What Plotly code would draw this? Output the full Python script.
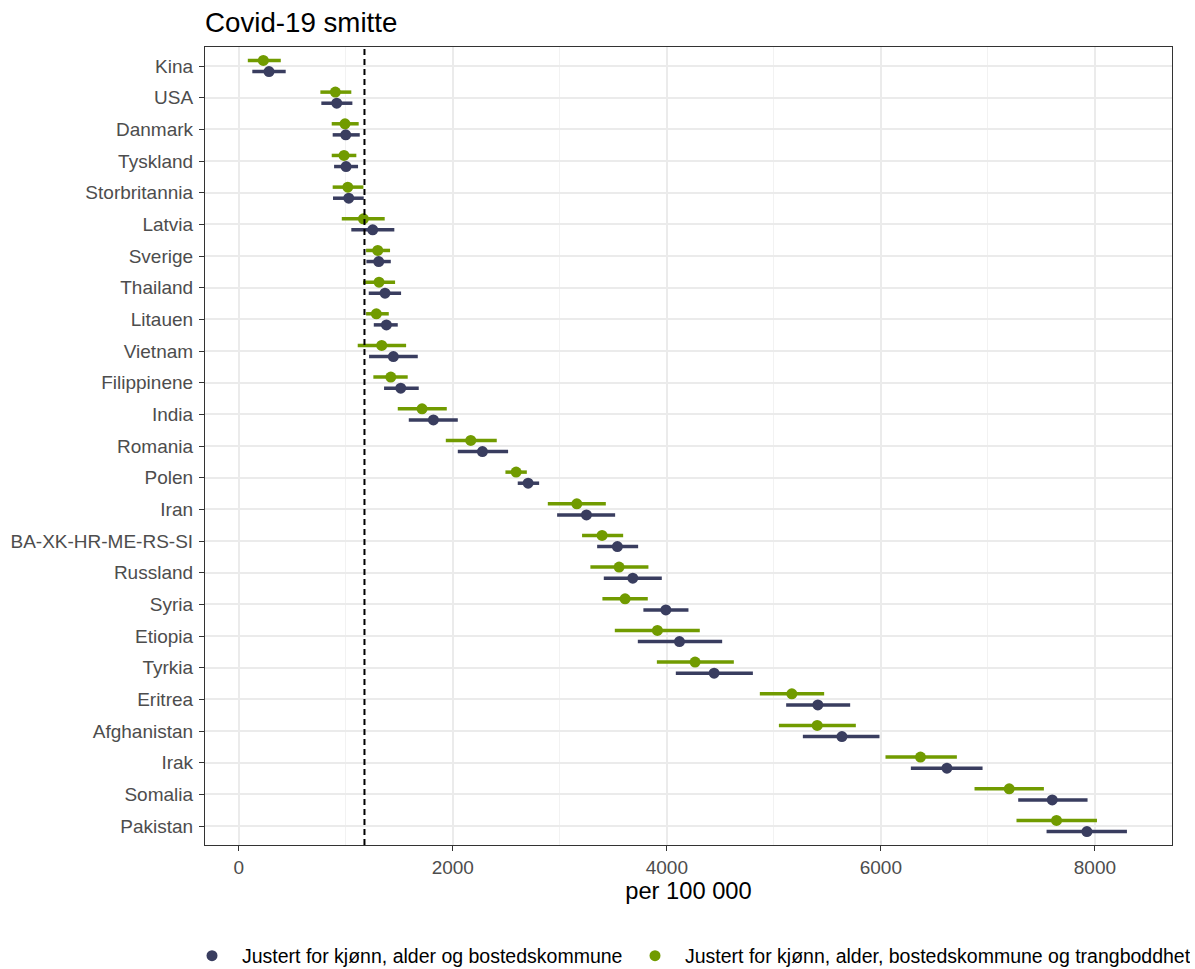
import plotly.graph_objects as go

countries = ["Kina", "USA", "Danmark", "Tyskland", "Storbritannia", "Latvia", "Sverige",
             "Thailand", "Litauen", "Vietnam", "Filippinene", "India", "Romania", "Polen",
             "Iran", "BA-XK-HR-ME-RS-SI", "Russland", "Syria", "Etiopia", "Tyrkia",
             "Eritrea", "Afghanistan", "Irak", "Somalia", "Pakistan"]

# Justert for kjønn, alder og bostedskommune
base_est = [283, 916, 1000, 1003, 1028, 1252, 1308, 1367, 1380, 1445, 1514, 1819, 2277,
            2704, 3249, 3538, 3682, 3991, 4118, 4442, 5411, 5636, 6617, 7601, 7925]
base_low = [127, 772, 878, 891, 881, 1052, 1193, 1215, 1262, 1218, 1358, 1589, 2047,
            2607, 2975, 3349, 3411, 3781, 3729, 4084, 5115, 5271, 6280, 7283, 7548]
base_high = [439, 1062, 1131, 1115, 1168, 1454, 1421, 1517, 1486, 1673, 1682, 2047, 2517,
             2807, 3517, 3732, 3953, 4202, 4517, 4804, 5713, 5987, 6950, 7931, 8299]

# Justert for kjønn, alder, bostedskommune og trangboddhet
crowd_est = [230, 903, 993, 984, 1019, 1165, 1299, 1311, 1286, 1336, 1421, 1713, 2168,
             2592, 3159, 3395, 3554, 3610, 3912, 4264, 5168, 5405, 6370, 7199, 7641]
crowd_low = [85, 763, 869, 869, 878, 963, 1190, 1162, 1190, 1112, 1258, 1486, 1935,
             2492, 2888, 3208, 3286, 3398, 3514, 3907, 4869, 5047, 6043, 6875, 7267]
crowd_high = [393, 1052, 1121, 1099, 1165, 1364, 1414, 1461, 1402, 1564, 1579, 1944, 2411,
              2692, 3430, 3592, 3828, 3822, 4308, 4626, 5470, 5766, 6710, 7523, 8019]

# Norwegian population level (vertical reference)
reference_level = 1175

series_names = ["Justert for kjønn, alder og bostedskommune",
                "Justert for kjønn, alder, bostedskommune og trangboddhet"]

NAVY = "#393D5F"
GREEN = "#719B00"
DODGE = 0.175
FONT = "Liberation Sans, Arial, sans-serif"
W, H = 1195, 969

positions = list(range(len(countries)))


def add_series(fig, name, est, low, high, color, shift, legend):
    fig.add_trace(go.Scatter(
        x=est,
        y=[p + shift for p in positions],
        mode="markers",
        name=name,
        legend=legend,
        marker=dict(color=color, size=11),
        error_x=dict(type="data", symmetric=False,
                     array=[h - e for h, e in zip(high, est)],
                     arrayminus=[e - l for e, l in zip(est, low)],
                     color=color, thickness=3.5, width=0),
        customdata=countries,
        hovertemplate="%{customdata}: %{x}<extra>" + name + "</extra>",
    ))


fig = go.Figure()
add_series(fig, series_names[0], base_est, base_low, base_high, NAVY, DODGE, "legend")
add_series(fig, series_names[1], crowd_est, crowd_low, crowd_high, GREEN, -DODGE, "legend2")

fig.add_vline(x=reference_level, line=dict(color="black", width=2, dash="6px,4px"),
              layer="above")

axis_line = dict(showline=True, mirror=True, linecolor="#333333", linewidth=1.2,
                 ticks="outside", ticklen=5, tickwidth=1.2, tickcolor="#333333",
                 zeroline=False, automargin=False)

fig.update_xaxes(
    range=[-315, 8720],
    tick0=0, dtick=2000,
    showgrid=True, gridcolor="#EBEBEB", gridwidth=2,
    minor=dict(tick0=1000, dtick=2000, showgrid=True, gridcolor="#F2F2F2", gridwidth=1),
    tickfont=dict(family=FONT, size=19, color="#4D4D4D"),
    title=dict(text="per 100 000", font=dict(family=FONT, size=23.7, color="black"),
               standoff=2),
    **axis_line,
)

fig.update_yaxes(
    range=[len(countries) - 0.4, -0.6],
    tickmode="array", tickvals=positions, ticktext=countries,
    showgrid=True, gridcolor="#EBEBEB", gridwidth=2,
    tickfont=dict(family=FONT, size=19, color="#4D4D4D"),
    ticklabelstandoff=2,
    **axis_line,
)

legend_common = dict(orientation="h", xref="container", yref="container",
                     xanchor="left", y=1 - 956 / H, yanchor="middle", itemwidth=50,
                     font=dict(family=FONT, size=19.5, color="black"),
                     bgcolor="rgba(0,0,0,0)")

fig.update_layout(
    width=W, height=H,
    margin=dict(l=205, r=23, t=47, b=124, autoexpand=False),
    plot_bgcolor="white", paper_bgcolor="white",
    title=dict(text="Covid-19 smitte", font=dict(family=FONT, size=27.7, color="black"),
               xref="paper", x=0, xanchor="left",
               yref="container", y=1 - 22 / H, yanchor="middle"),
    legend=dict(x=182 / W, **legend_common),
    legend2=dict(x=625 / W, entrywidth=500, **legend_common),
    showlegend=True,
)

fig.write_html("out.html")
